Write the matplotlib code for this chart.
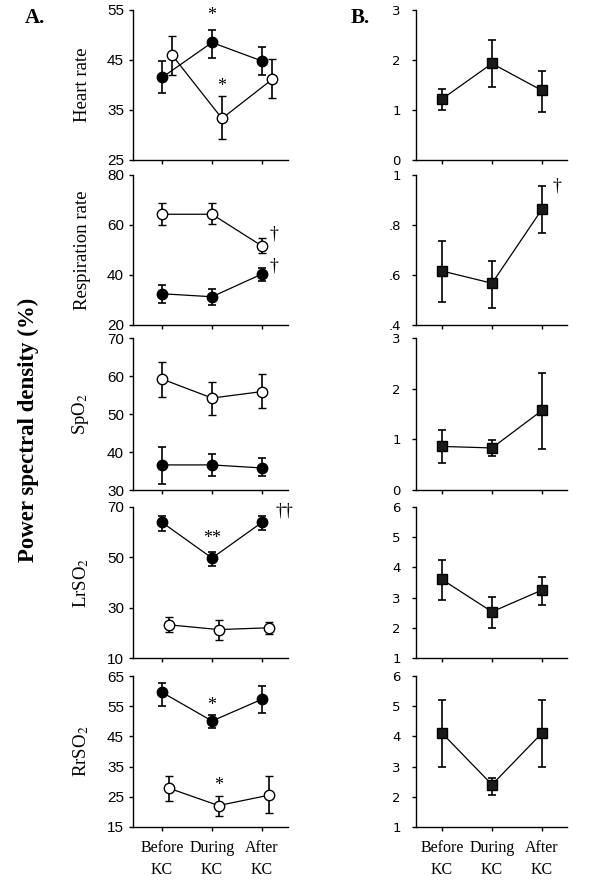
import matplotlib
matplotlib.use("Agg")
import matplotlib.pyplot as plt
import numpy as np

plt.rcParams['mathtext.fontset'] = 'stix'

phases = ["Before\nKC", "During\nKC", "After\nKC"]
xpos = [1, 2, 3]

# Column A: filled (black) and open (white) circles; means and error bar ends
hr_fill = [41.5, 48.5, 44.8]
hr_fill_lo = [38.3, 45.3, 42.0]
hr_fill_hi = [44.7, 51.0, 47.5]
hr_open = [46.0, 33.3, 41.1]
hr_open_lo = [42.0, 29.1, 37.3]
hr_open_hi = [49.7, 37.7, 45.1]

rr_fill = [32.5, 31.3, 40.4]
rr_fill_lo = [28.9, 28.0, 37.7]
rr_fill_hi = [36.0, 34.4, 42.7]
rr_open = [64.3, 64.3, 51.6]
rr_open_lo = [60.0, 60.4, 48.7]
rr_open_hi = [68.7, 68.7, 54.7]

sp_fill = [36.6, 36.6, 35.8]
sp_fill_lo = [31.6, 33.8, 33.8]
sp_fill_hi = [41.3, 39.6, 38.5]
sp_open = [59.2, 54.2, 55.9]
sp_open_lo = [54.4, 49.8, 51.5]
sp_open_hi = [63.6, 58.3, 60.5]

lr_fill = [63.9, 49.7, 63.9]
lr_fill_lo = [60.3, 46.4, 61.0]
lr_fill_hi = [66.6, 52.1, 66.6]
lr_open = [23.2, 21.3, 22.0]
lr_open_lo = [20.3, 17.0, 19.4]
lr_open_hi = [26.2, 25.0, 24.4]

rs_fill = [59.6, 50.1, 57.3]
rs_fill_lo = [55.2, 47.9, 52.8]
rs_fill_hi = [62.8, 52.1, 61.7]
rs_open = [27.9, 22.1, 25.5]
rs_open_lo = [23.5, 18.7, 19.6]
rs_open_hi = [31.8, 25.4, 31.8]

# Column B: squares
b_hr = [1.22, 1.93, 1.39]
b_hr_lo = [1.00, 1.45, 0.95]
b_hr_hi = [1.42, 2.39, 1.78]
b_rr = [0.616, 0.567, 0.863]
b_rr_lo = [0.491, 0.469, 0.767]
b_rr_hi = [0.736, 0.656, 0.956]
b_sp = [0.86, 0.83, 1.57]
b_sp_lo = [0.53, 0.68, 0.81]
b_sp_hi = [1.18, 0.99, 2.30]
b_lr = [3.60, 2.53, 3.25]
b_lr_lo = [2.91, 2.00, 2.77]
b_lr_hi = [4.26, 3.02, 3.68]
b_rs = [4.11, 2.40, 4.11]
b_rs_lo = [2.98, 2.07, 2.98]
b_rs_hi = [5.20, 2.63, 5.20]

ylabels = ["Heart rate", "Respiration rate", "SpO$_2$", "LrSO$_2$", "RrSO$_2$"]
a_ticks = [[25, 35, 45, 55], [20, 40, 60, 80], [30, 40, 50, 60, 70],
           [10, 30, 50, 70], [15, 25, 35, 45, 55, 65]]
b_ticks = [[0, 1, 2, 3], [0.4, 0.6, 0.8, 1.0], [0, 1, 2, 3],
           [1, 2, 3, 4, 5, 6], [1, 2, 3, 4, 5, 6]]
b_ticklabels = [["0", "1", "2", "3"], [".4", ".6", ".8", "1"], ["0", "1", "2", "3"],
                ["1", "2", "3", "4", "5", "6"], ["1", "2", "3", "4", "5", "6"]]

A_data = [
    (hr_fill, hr_fill_lo, hr_fill_hi, hr_open, hr_open_lo, hr_open_hi, 0.2),
    (rr_fill, rr_fill_lo, rr_fill_hi, rr_open, rr_open_lo, rr_open_hi, 0.0),
    (sp_fill, sp_fill_lo, sp_fill_hi, sp_open, sp_open_lo, sp_open_hi, 0.0),
    (lr_fill, lr_fill_lo, lr_fill_hi, lr_open, lr_open_lo, lr_open_hi, 0.13),
    (rs_fill, rs_fill_lo, rs_fill_hi, rs_open, rs_open_lo, rs_open_hi, 0.13),
]
B_data = [
    (b_hr, b_hr_lo, b_hr_hi), (b_rr, b_rr_lo, b_rr_hi), (b_sp, b_sp_lo, b_sp_hi),
    (b_lr, b_lr_lo, b_lr_hi), (b_rs, b_rs_lo, b_rs_hi),
]

W, H = 600, 889
fig = plt.figure(figsize=(6, 8.89), dpi=100)

rows_px = [(10, 160), (175, 325), (338, 490), (507, 658), (676, 827)]
colA = (133, 288)
colB = (416, 567)

serif = "Liberation Serif"
tickfontA = "Liberation Sans"
tickfontB = "DejaVu Sans"


def style(ax, ticks, labels, font, fs, pad):
    for s in ["top", "right"]:
        ax.spines[s].set_visible(False)
    for s in ["left", "bottom"]:
        ax.spines[s].set_linewidth(1.0)
    ax.set_ylim(ticks[0], ticks[-1])
    ax.set_yticks(ticks)
    ax.set_yticklabels(labels, fontfamily=font, fontsize=fs)
    ax.set_xticks(xpos)
    ax.tick_params(axis='both', direction='out', length=3, width=1)
    ax.tick_params(axis='y', pad=pad)


def err(vals, lo, hi):
    v = np.array(vals); return [v - np.array(lo), np.array(hi) - v]


axesA, axesB = [], []
for i, (t, b) in enumerate(rows_px):
    axA = fig.add_axes([colA[0] / W, 1 - b / H, (colA[1] - colA[0]) / W, (b - t) / H])
    fv, flo, fhi, ov, olo, ohi, off = A_data[i]
    axA.errorbar(xpos, fv, yerr=err(fv, flo, fhi), color='black', lw=0.9,
                 elinewidth=1.2, capsize=3, capthick=1.2, marker='o', ms=7.5,
                 mfc='black', mec='black', zorder=3)
    xo = [x + off for x in xpos]
    axA.errorbar(xo, ov, yerr=err(ov, olo, ohi), color='black', lw=0.9,
                 elinewidth=1.2, capsize=3, capthick=1.2, marker='o', ms=7.5,
                 mfc='white', mec='black', mew=1.0, zorder=3)
    axA.set_xlim(0.42, 3.52)
    style(axA, a_ticks[i], [str(v) for v in a_ticks[i]], tickfontA, 11, 3.5)
    axA.set_ylabel(ylabels[i], fontfamily=serif, fontsize=13.5)
    axA.yaxis.set_label_coords(-0.27, 0.5)
    axesA.append(axA)

    axB = fig.add_axes([colB[0] / W, 1 - b / H, (colB[1] - colB[0]) / W, (b - t) / H])
    v, lo, hi = B_data[i]
    axB.errorbar(xpos, v, yerr=err(v, lo, hi), color='black', lw=0.9,
                 elinewidth=1.2, capsize=3, capthick=1.2, marker='s', ms=7.5,
                 mfc='#1a1a1a', mec='black', zorder=3)
    axB.set_xlim(0.48, 3.5)
    style(axB, b_ticks[i], b_ticklabels[i], tickfontB, 9.5, 8)
    axesB.append(axB)

for ax in axesA[:-1] + axesB[:-1]:
    ax.set_xticklabels([])
for ax in (axesA[-1], axesB[-1]):
    ax.set_xticklabels(phases, fontfamily=serif, fontsize=11.5, linespacing=1.5)
    ax.tick_params(axis='x', pad=6)

star = dict(fontfamily=serif, fontsize=13, ha='center', va='center')
axesA[0].text(2.0, 53.8, "*", **star)
axesA[0].text(2.2, 39.6, "*", **star)
axesA[1].text(3.23, 56.5, "\u2020", **star)
axesA[1].text(3.23, 43.5, "\u2020", **star)
axesA[3].text(2.0, 57.5, "**", **star)
axesA[3].text(3.45, 68.5, "\u2020\u2020", **star)
axesA[4].text(2.0, 55.3, "*", **star)
axesA[4].text(2.13, 28.8, "*", **star)
axesB[1].text(3.3, 0.955, "\u2020", **star)

fig.text(35 / W, 1 - 18 / H, "A.", fontfamily=serif, fontsize=15, fontweight='bold',
         ha='center', va='center')
fig.text(360 / W, 1 - 18 / H, "B.", fontfamily=serif, fontsize=15, fontweight='bold',
         ha='center', va='center')
fig.text(28 / W, 1 - 430 / H, "Power spectral density (%)", fontfamily=serif,
         fontsize=16.5, fontweight='bold', rotation=90, ha='center', va='center')

fig.savefig("out.png", dpi=100)
